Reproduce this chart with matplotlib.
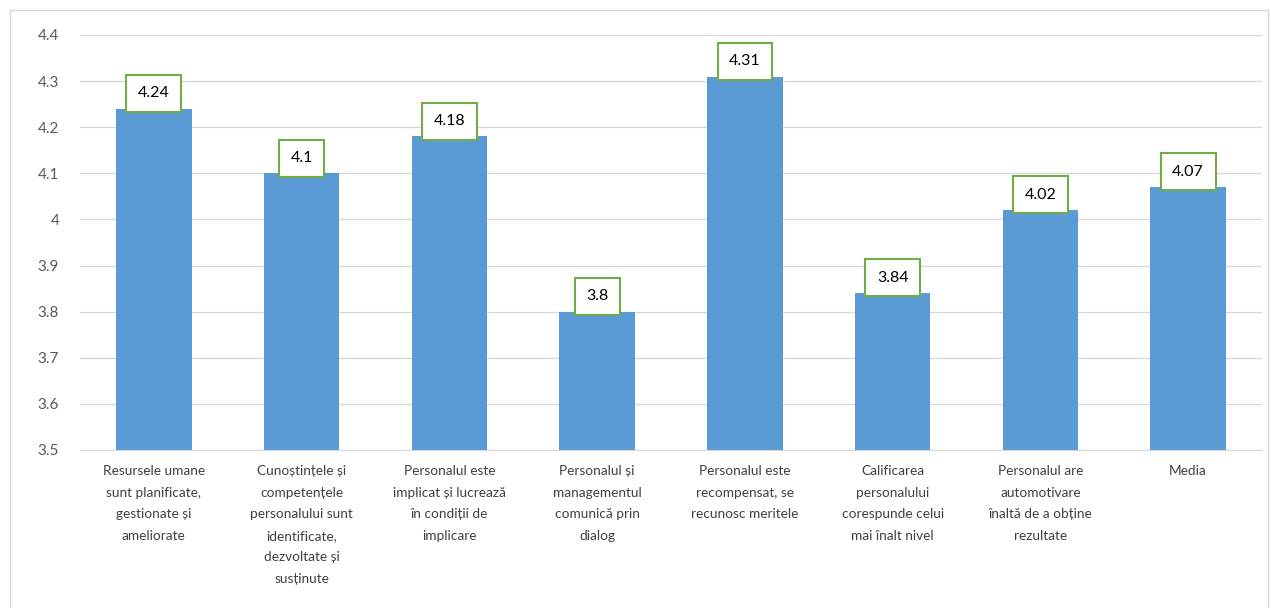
import matplotlib
matplotlib.use("Agg")
import matplotlib.pyplot as plt
from matplotlib.patches import Rectangle
from matplotlib.ticker import FuncFormatter, MultipleLocator

plt.rcParams['font.family'] = ['Lato', 'DejaVu Sans']

categories = [
    "Resursele umane\nsunt planificate,\ngestionate și\nameliorate",
    "Cunoștințele și\ncompetențele\npersonalului sunt\nidentificate,\ndezvoltate și\nsusținute",
    "Personalul este\nimplicat și lucrează\nîn condiții de\nimplicare",
    "Personalul și\nmanagementul\ncomunică prin\ndialog",
    "Personalul este\nrecompensat, se\nrecunosc meritele",
    "Calificarea\npersonalului\ncorespunde celui\nmai înalt nivel",
    "Personalul are\nautomotivare\nînaltă de a obține\nrezultate",
    "Media",
]
values = [4.24, 4.1, 4.18, 3.8, 4.31, 3.84, 4.02, 4.07]
value_labels = ["4.24", "4.1", "4.18", "3.8", "4.31", "3.84", "4.02", "4.07"]

W, H = 1271, 608
fig = plt.figure(figsize=(W / 100, H / 100), dpi=100)
fig.patch.set_facecolor('white')

# chart frame
fig.patches.append(Rectangle((10 / W, -0.01), (W - 13) / W, 1 - 10 / H + 0.01,
                             transform=fig.transFigure, fill=False,
                             edgecolor='#D9D9D9', linewidth=1.0))

ax = fig.add_axes([80 / W, 1 - 450 / H, (1262 - 80) / W, (450 - 35) / H])
x = list(range(len(values)))
ax.bar(x, values, width=0.51, color='#5B9BD5', zorder=2)
ax.set_ylim(3.5, 4.4)
ax.set_xlim(-0.5, len(values) - 0.5)
ax.yaxis.set_major_locator(MultipleLocator(0.1))
ax.yaxis.set_major_formatter(FuncFormatter(lambda v, p: f"{v:.1f}".rstrip('0').rstrip('.')))
ax.grid(axis='y', color='#D9D9D9', linewidth=1.0, zorder=0)
for s in ['top', 'right', 'left']:
    ax.spines[s].set_visible(False)
ax.spines['bottom'].set_color('#D9D9D9')
ax.tick_params(axis='both', length=0, colors='#595959')
ax.tick_params(axis='y', labelsize=11, pad=15)
ax.set_xticks(x)
ax.set_xticklabels(categories, fontsize=9.8, color='#404040')
for t in ax.get_xticklabels():
    t.set_linespacing(1.95)
ax.tick_params(axis='x', pad=11)

for xi, v, lab in zip(x, values, value_labels):
    ax.annotate(lab, (xi, v), xytext=(0, 11), textcoords='offset points',
                ha='center', va='center', fontsize=11.5, color='black',
                bbox=dict(boxstyle='square,pad=0.72', facecolor='white',
                          edgecolor='#70AD47', linewidth=1.5), zorder=3)

fig.savefig('out.png', dpi=100, facecolor='white')
